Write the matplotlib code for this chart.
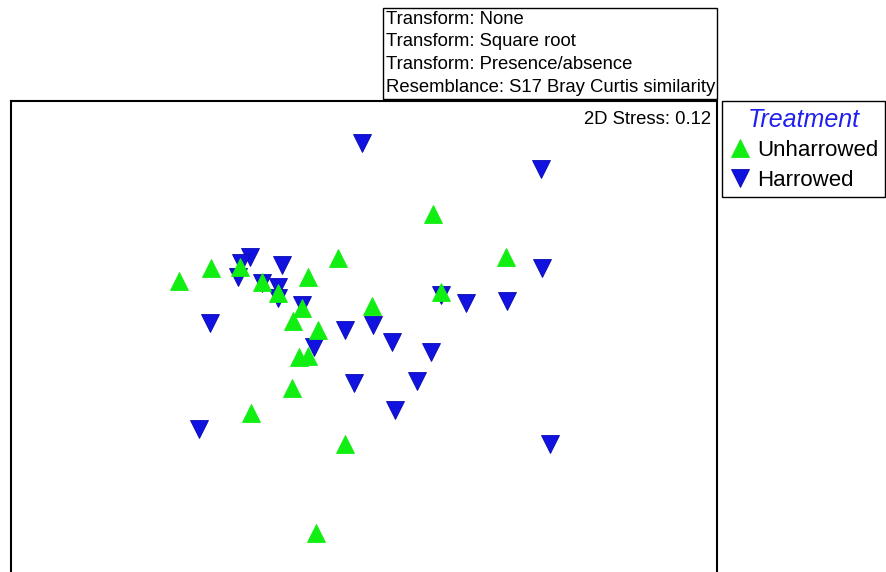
import matplotlib
matplotlib.use("Agg")
import matplotlib.pyplot as plt
from matplotlib.patches import Rectangle

plt.rcParams['font.family'] = ['Liberation Sans', 'DejaVu Sans']

# nMDS coordinates (arbitrary units)
unharrowed_x = [-1.85, -1.53, -1.24, -1.02, -0.86, -0.62, -0.71, -0.56, -0.26, -0.46,
                -0.65, -0.56, -0.72, 0.08, 0.69, 1.42, 0.77, -1.13, -0.19, -0.48]
unharrowed_y = [0.19, 0.32, 0.33, 0.18, 0.07, -0.08, -0.21, 0.23, 0.42, -0.30,
                -0.57, -0.56, -0.88, -0.06, 0.86, 0.43, 0.08, -1.13, -1.44, -2.33]
harrowed_x = [-0.02, 1.77, 1.78, 0.77, 1.02, 1.43, -0.19, 0.09, 0.28, 0.67,
              -1.14, -1.23, -0.82, -1.26, -1.02, -0.86, -0.86, -0.62, -1.54, -0.50,
              -0.10, 0.53, 0.31, -1.65, 1.86]
harrowed_y = [1.57, 1.31, 0.32, 0.05, -0.03, -0.01, -0.30, -0.25, -0.42, -0.52,
              0.43, 0.37, 0.35, 0.23, 0.17, 0.13, 0.02, -0.05, -0.23, -0.47,
              -0.83, -0.81, -1.10, -1.29, -1.44]

info_lines = ["Transform: None", "Transform: Square root",
              "Transform: Presence/absence", "Resemblance: S17 Bray Curtis similarity"]
stress_text = "2D Stress: 0.12"
legend_title = "Treatment"
group_labels = ["Unharrowed", "Harrowed"]

W, H = 887, 572
fig = plt.figure(figsize=(W / 100, H / 100), dpi=100)
ax = fig.add_axes([11 / W, 1 - 580 / H, (717 - 11) / W, (580 - 101) / H])

green = '#11ee11'
blue = '#1111e0'
h_line, = ax.plot(harrowed_x, harrowed_y, linestyle='none', marker='v', markersize=12.5,
                  color=blue, markeredgecolor='#0a0ab0', markeredgewidth=0.6,
                  label=group_labels[1])
u_line, = ax.plot(unharrowed_x, unharrowed_y, linestyle='none', marker='^', markersize=12.5,
                  color=green, markeredgecolor=green, markeredgewidth=0.6,
                  label=group_labels[0])

ax.set_xlim(-3.53, 3.53)
ax.set_ylim(-2.80, 1.99)
ax.set_xticks([])
ax.set_yticks([])
for s in ax.spines.values():
    s.set_linewidth(1.5)
    s.set_color('black')

fig.text(711 / W, 1 - 119 / H, stress_text, ha='right', va='center', fontsize=13.3)

fig.patches.append(Rectangle((383 / W, 1 - 99 / H), 334 / W, 91 / H,
                             transform=fig.transFigure, fill=False, ec='black', lw=1.0))
for i, line in enumerate(info_lines):
    fig.text(386 / W, 1 - (19 + 22.7 * i) / H, line, ha='left', va='center', fontsize=13.3)

leg = fig.legend(handles=[u_line, h_line], labels=group_labels, loc='upper left',
                 bbox_to_anchor=(722 / W, 1 - 101 / H), bbox_transform=fig.transFigure,
                 borderaxespad=0, frameon=True, fancybox=False, edgecolor='black',
                 framealpha=1, fontsize=16, title=legend_title,
                 title_fontproperties={'style': 'italic', 'size': 18},
                 handlelength=1.0, handletextpad=0.3, borderpad=0.3, labelspacing=0.38)
leg.get_title().set_color('#2020ee')
leg.get_frame().set_linewidth(1.0)

fig.savefig('out.png', dpi=100)
